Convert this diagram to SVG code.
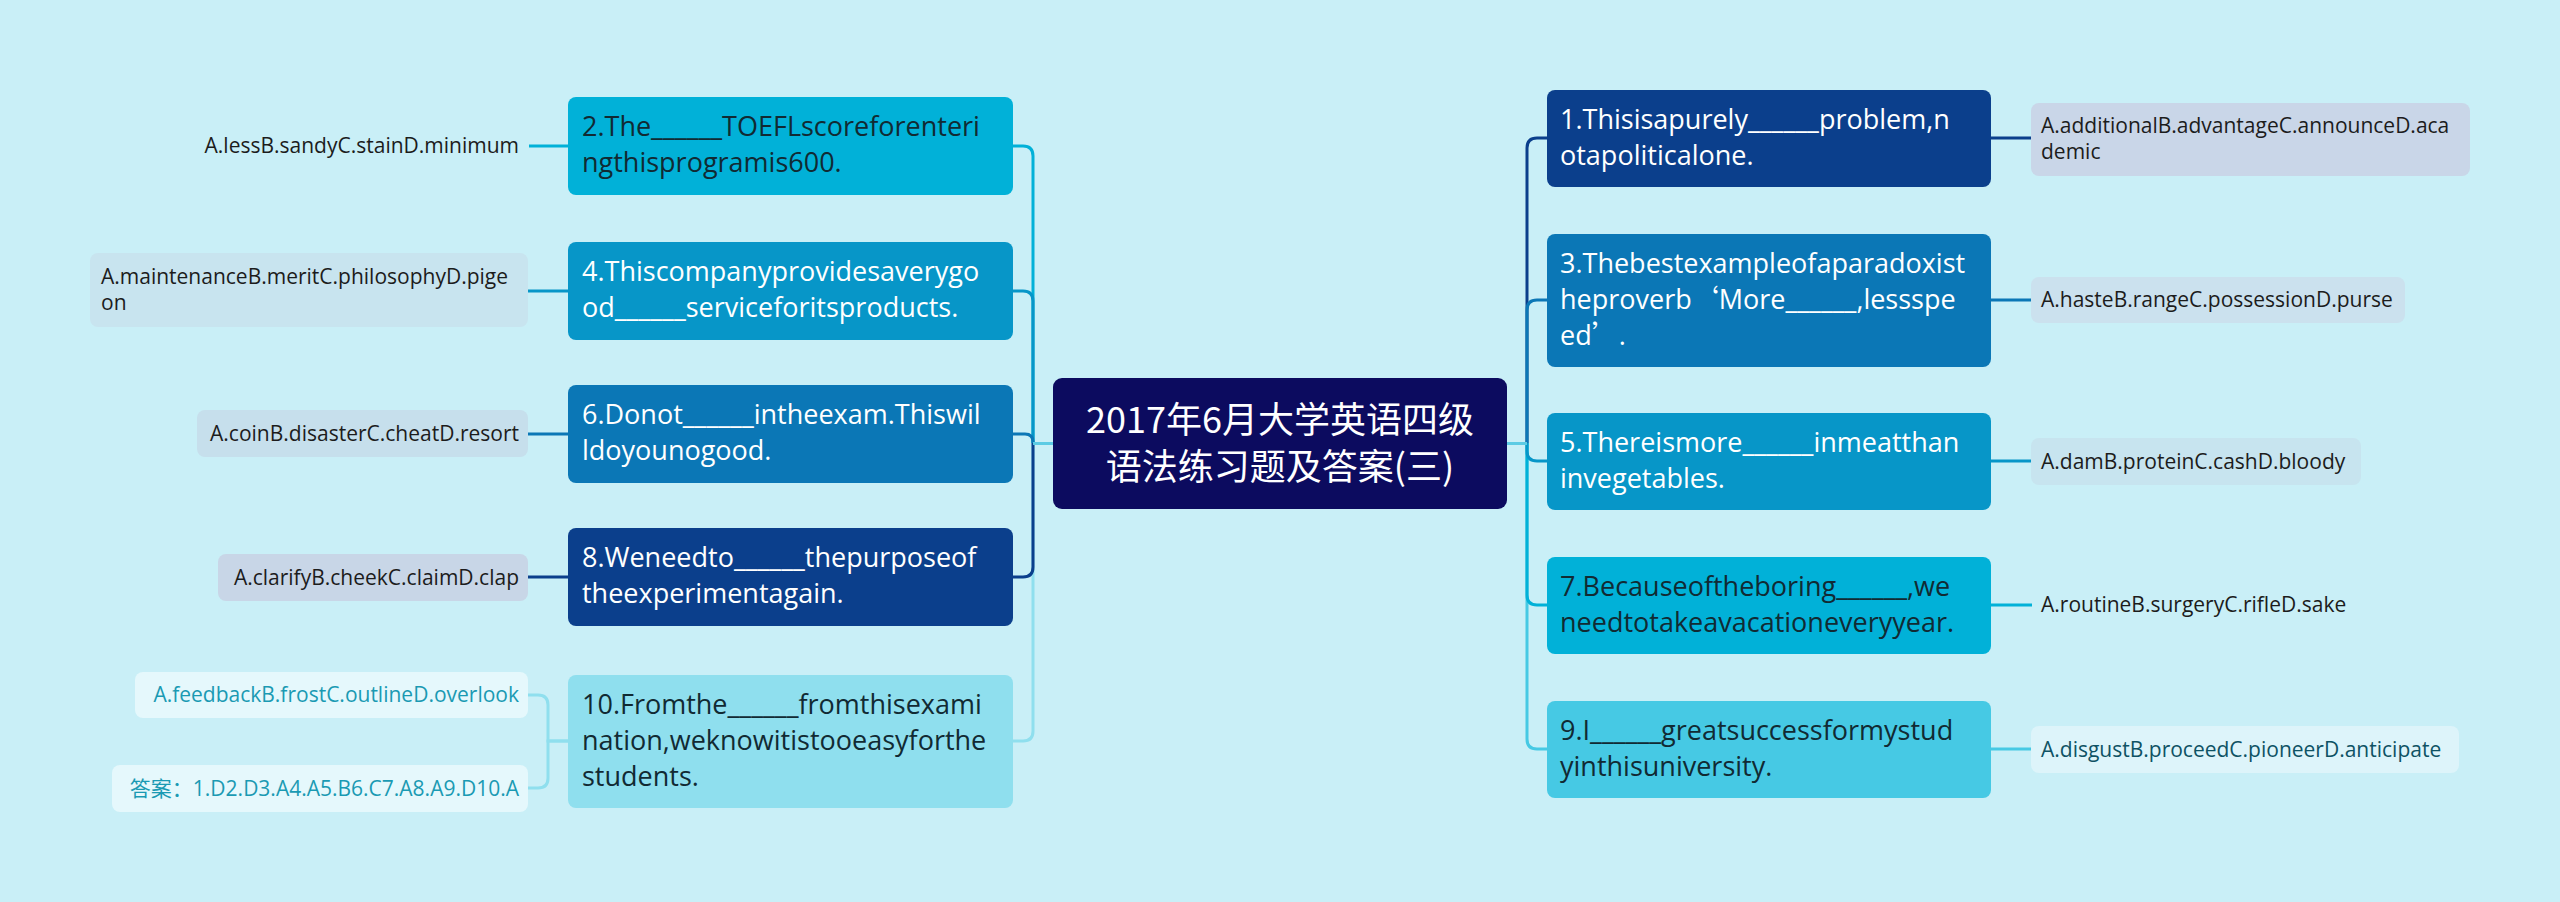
<svg xmlns="http://www.w3.org/2000/svg" width="2560" height="902" viewBox="0 0 2560 902">
<style>
.t{font-family:"Open Sans","Noto Sans CJK SC",sans-serif}
.nt{font-size:27px}
.lt{font-size:21px}
.cj{font-family:"Noto Sans CJK SC",sans-serif}
.w{fill:#ffffff}
.d{fill:#112a33}
.k{fill:#1c1c1c}
.c{fill:none;stroke-width:3}
</style>
<rect x="0" y="0" width="2560" height="902" fill="#c9eff7"/>

<g id="connectors">
  <!-- left branches (farthest first) -->
  <path class="c" stroke="#8fdfee" d="M1033 443 V731 Q1033 741 1023 741 H1013"/>
  <path class="c" stroke="#01b1d8" d="M1033 443 V156 Q1033 146 1023 146 H1013"/>
  <path class="c" stroke="#0b3f8c" d="M1033 443 V567 Q1033 577 1023 577 H1013"/>
  <path class="c" stroke="#0796c8" d="M1033 443 V301 Q1033 291 1023 291 H1013"/>
  <path class="c" stroke="#0b77b6" d="M1033 443 V442 Q1033 434 1025 434 H1013"/>
  <path class="c" stroke="#5ccbe4" d="M1033 443.5 H1053"/>
  <!-- right branches -->
  <path class="c" stroke="#46c9e4" d="M1527 443 V739 Q1527 749 1537 749 H1547"/>
  <path class="c" stroke="#0b3f8c" d="M1527 443 V148 Q1527 138 1537 138 H1547"/>
  <path class="c" stroke="#01b1d8" d="M1527 443 V595 Q1527 605 1537 605 H1547"/>
  <path class="c" stroke="#0b77b6" d="M1527 443 V310 Q1527 300 1537 300 H1547"/>
  <path class="c" stroke="#0796c8" d="M1527 443 V451 Q1527 461 1537 461 H1547"/>
  <path class="c" stroke="#5ccbe4" d="M1507 443.5 H1527"/>
  <!-- left leaves -->
  <path class="c" stroke="#01b1d8" d="M568 146 H529"/>
  <path class="c" stroke="#0796c8" d="M568 291 H528"/>
  <path class="c" stroke="#0b77b6" d="M568 434 H528"/>
  <path class="c" stroke="#0b3f8c" d="M568 577 H528"/>
  <path class="c" stroke="#8fdfee" d="M568 741 H548 V705 Q548 695 538 695 H528"/>
  <path class="c" stroke="#8fdfee" d="M568 741 H548 V778 Q548 788 538 788 H528"/>
  <!-- right leaves -->
  <path class="c" stroke="#0b3f8c" d="M1991 138 H2031"/>
  <path class="c" stroke="#0b77b6" d="M1991 300 H2031"/>
  <path class="c" stroke="#0796c8" d="M1991 461 H2031"/>
  <path class="c" stroke="#01b1d8" d="M1991 605 H2032"/>
  <path class="c" stroke="#46c9e4" d="M1991 749 H2031"/>
</g>

<g id="center">
  <rect x="1053" y="378" width="454" height="131" rx="9" fill="#0c0b5f"/>
  <text class="cj w" font-size="36" text-anchor="middle" x="1280" y="433">2017年6月大学英语四级</text>
  <text class="cj w" font-size="36" text-anchor="middle" x="1280" y="480">语法练习题及答案(三)</text>
</g>

<g id="n2">
  <rect x="568" y="97" width="445" height="98" rx="8" fill="#01b1d8"/>
  <text class="t nt d" x="582"><tspan x="582" y="136">2.The______TOEFLscoreforenteri</tspan><tspan x="582" y="172">ngthisprogramis600.</tspan></text>
</g>
<g id="n4">
  <rect x="568" y="242" width="445" height="98" rx="8" fill="#0796c8"/>
  <text class="t nt w"><tspan x="582" y="281">4.Thiscompanyprovidesaverygo</tspan><tspan x="582" y="317">od______serviceforitsproducts.</tspan></text>
</g>
<g id="n6">
  <rect x="568" y="385" width="445" height="98" rx="8" fill="#0b77b6"/>
  <text class="t nt w"><tspan x="582" y="424">6.Donot______intheexam.Thiswil</tspan><tspan x="582" y="460">ldoyounogood.</tspan></text>
</g>
<g id="n8">
  <rect x="568" y="528" width="445" height="98" rx="8" fill="#0b3f8c"/>
  <text class="t nt w"><tspan x="582" y="567">8.Weneedto______thepurposeof</tspan><tspan x="582" y="603">theexperimentagain.</tspan></text>
</g>
<g id="n10">
  <rect x="568" y="675" width="445" height="133" rx="8" fill="#8fdfee"/>
  <text class="t nt d"><tspan x="582" y="714">10.Fromthe______fromthisexami</tspan><tspan x="582" y="750">nation,weknowitistooeasyforthe</tspan><tspan x="582" y="786">students.</tspan></text>
</g>

<g id="n1">
  <rect x="1547" y="90" width="444" height="97" rx="8" fill="#0b3f8c"/>
  <text class="t nt w"><tspan x="1560" y="129">1.Thisisapurely______problem,n</tspan><tspan x="1560" y="165">otapoliticalone.</tspan></text>
</g>
<g id="n3">
  <rect x="1547" y="234" width="444" height="133" rx="8" fill="#0b77b6"/>
  <text class="t nt w"><tspan x="1560" y="273">3.Thebestexampleofaparadoxist</tspan><tspan x="1560" y="309">heproverb<tspan class="cj">‘</tspan>More______,lessspe</tspan><tspan x="1560" y="345">ed<tspan class="cj">’</tspan>.</tspan></text>
</g>
<g id="n5">
  <rect x="1547" y="413" width="444" height="97" rx="8" fill="#0796c8"/>
  <text class="t nt w"><tspan x="1560" y="452">5.Thereismore______inmeatthan</tspan><tspan x="1560" y="488">invegetables.</tspan></text>
</g>
<g id="n7">
  <rect x="1547" y="557" width="444" height="97" rx="8" fill="#01b1d8"/>
  <text class="t nt d"><tspan x="1560" y="596">7.Becauseoftheboring______,we</tspan><tspan x="1560" y="632">needtotakeavacationeveryyear.</tspan></text>
</g>
<g id="n9">
  <rect x="1547" y="701" width="444" height="97" rx="8" fill="#46c9e4"/>
  <text class="t nt d"><tspan x="1560" y="740">9.I______greatsuccessformystud</tspan><tspan x="1560" y="776">yinthisuniversity.</tspan></text>
</g>

<g id="l2">
  <text class="t lt k" text-anchor="end" x="519" y="153">A.lessB.sandyC.stainD.minimum</text>
</g>
<g id="l4">
  <rect x="90" y="253" width="438" height="74" rx="8" fill="#c8e4ef"/>
  <text class="t lt k"><tspan x="101" y="284">A.maintenanceB.meritC.philosophyD.pige</tspan><tspan x="101" y="310">on</tspan></text>
</g>
<g id="l6">
  <rect x="197" y="410" width="331" height="47" rx="8" fill="#c6dfec"/>
  <text class="t lt k" text-anchor="end" x="519" y="441">A.coinB.disasterC.cheatD.resort</text>
</g>
<g id="l8">
  <rect x="218" y="554" width="310" height="47" rx="8" fill="#c8d6e7"/>
  <text class="t lt k" text-anchor="end" x="519" y="585">A.clarifyB.cheekC.claimD.clap</text>
</g>
<g id="l10a">
  <rect x="135" y="672" width="393" height="46" rx="8" fill="#e5f8fc"/>
  <text class="t lt" fill="#1a9ab3" text-anchor="end" x="519" y="702">A.feedbackB.frostC.outlineD.overlook</text>
</g>
<g id="l10b">
  <rect x="112" y="765" width="416" height="47" rx="8" fill="#e5f8fc"/>
  <text class="t lt" fill="#1a9ab3" text-anchor="end" x="519" y="796">答案：1.D2.D3.A4.A5.B6.C7.A8.A9.D10.A</text>
</g>

<g id="r1">
  <rect x="2031" y="103" width="439" height="73" rx="8" fill="#c9d6e8"/>
  <text class="t lt k"><tspan x="2041" y="133">A.additionalB.advantageC.announceD.aca</tspan><tspan x="2041" y="159">demic</tspan></text>
</g>
<g id="r3">
  <rect x="2031" y="277" width="374" height="46" rx="8" fill="#cbe1ee"/>
  <text class="t lt k" x="2041" y="307">A.hasteB.rangeC.possessionD.purse</text>
</g>
<g id="r5">
  <rect x="2031" y="438" width="330" height="47" rx="8" fill="#c7e4ef"/>
  <text class="t lt k" x="2041" y="469">A.damB.proteinC.cashD.bloody</text>
</g>
<g id="r7">
  <text class="t lt k" x="2041" y="612">A.routineB.surgeryC.rifleD.sake</text>
</g>
<g id="r9">
  <rect x="2031" y="726" width="428" height="47" rx="8" fill="#ddf4fa"/>
  <text class="t lt" fill="#0e5264" x="2041" y="757">A.disgustB.proceedC.pioneerD.anticipate</text>
</g>
</svg>
